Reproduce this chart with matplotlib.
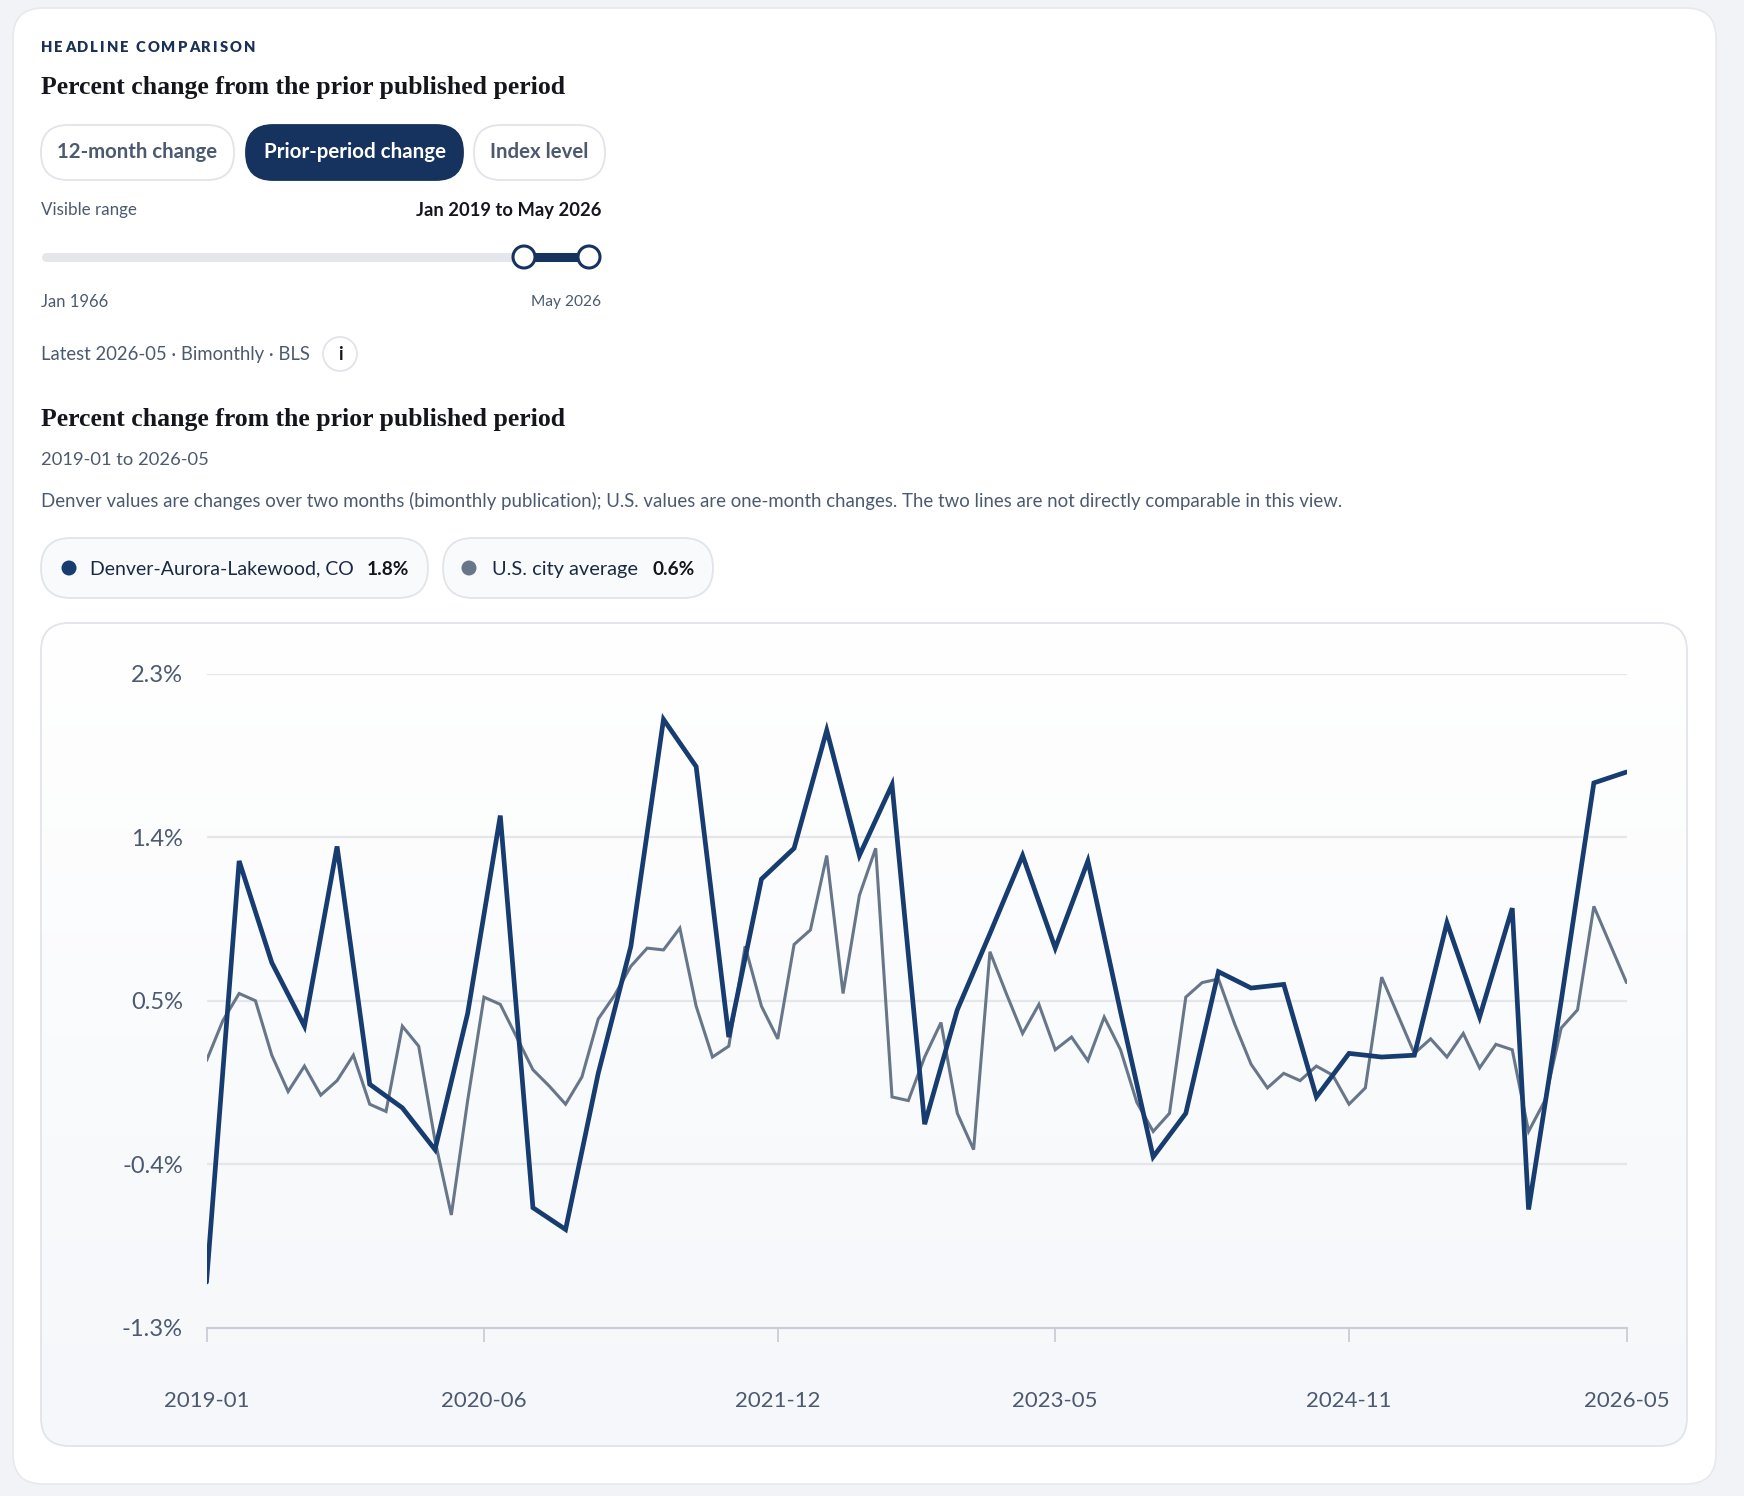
import matplotlib
matplotlib.use("Agg")
import matplotlib.pyplot as plt
import numpy as np
import pandas as pd
from matplotlib.colors import LinearSegmentedColormap
from matplotlib.patches import Circle, FancyBboxPatch

W, H = 1744, 1496

# monthly axis; Oct 2025 was never published so it has no slot
months = [str(p) for p in pd.period_range("2019-01", "2026-05", freq="M") if str(p) != "2025-10"]

us_values = [
    0.17, 0.39, 0.54, 0.50, 0.20, 0.00, 0.14, -0.02, 0.06, 0.20,
    -0.07, -0.11, 0.36, 0.25, -0.27, -0.68, -0.05, 0.52, 0.48, 0.30,
    0.12, 0.03, -0.07, 0.08, 0.40, 0.53, 0.69, 0.79, 0.78, 0.90,
    0.47, 0.19, 0.25, 0.80, 0.47, 0.29, 0.81, 0.89, 1.30, 0.54,
    1.08, 1.34, -0.03, -0.05, 0.19, 0.38, -0.12, -0.32, 0.77, 0.54,
    0.32, 0.48, 0.23, 0.30, 0.17, 0.41, 0.23, -0.06, -0.22, -0.12,
    0.52, 0.60, 0.62, 0.37, 0.15, 0.02, 0.10, 0.06, 0.14, 0.09,
    -0.07, 0.02, 0.63, 0.42, 0.21, 0.29, 0.19, 0.32, 0.13, 0.26,
    0.23, -0.22, -0.05, 0.35, 0.45, 1.02, 0.81, 0.60,
]

# Denver is published for odd months only (bimonthly)
denver_months = [m for m in months if int(m[5:]) % 2 == 1]
denver_values = [
    -1.05, 1.27, 0.71, 0.36, 1.35, 0.04, -0.09, -0.32, 0.43, 1.52,
    -0.64, -0.76, 0.10, 0.80, 2.05, 1.79, 0.30, 1.17, 1.34, 1.99,
    1.30, 1.69, -0.18, 0.45, 0.87, 1.30, 0.79, 1.27, 0.44, -0.36,
    -0.12, 0.66, 0.57, 0.59, -0.03, 0.21, 0.19, 0.20, 0.93, 0.41,
    1.01, -0.65, 0.50, 1.70, 1.76,
]

tick_months = ["2019-01", "2020-06", "2021-12", "2023-05", "2024-11", "2026-05"]
y_ticks = [2.3, 1.4, 0.5, -0.4, -1.3]
buttons = ["12-month change", "Prior-period change", "Index level"]

BG = "#f1f3f6"
NAVY = "#15335e"
LINE_NAVY = "#173c70"
LINE_GRAY = "#677689"
SLATE = "#4c5a70"
INK = "#14161c"
BORDER = "#e1e4e9"
GRID = "#e4e6ea"
AXIS = "#c9ced6"
FONT = ["Lato", "DejaVu Sans"]
SERIF = ["Liberation Serif", "DejaVu Serif"]

plt.rcParams["font.family"] = FONT

fig = plt.figure(figsize=(W / 100, H / 100), dpi=100, facecolor=BG)
bg = fig.add_axes([0, 0, 1, 1])
bg.set_xlim(0, W)
bg.set_ylim(H, 0)
bg.axis("off")
renderer = fig.canvas.get_renderer()


def rbox(x0, y0, x1, y1, r, fc, ec="none", lw=1.0, z=1):
    p = FancyBboxPatch((x0 + r, y0 + r), x1 - x0 - 2 * r, y1 - y0 - 2 * r,
                       boxstyle=f"round,pad={r}", fc=fc, ec=ec, lw=lw, zorder=z)
    bg.add_patch(p)
    return p


def put(x, y, s, width, ha="left", size=12, **kw):
    """Place text and scale its size so it spans `width` pixels."""
    t = bg.text(x, y, s, ha=ha, va="center", fontsize=size, zorder=10, **kw)
    w = t.get_window_extent(renderer).width
    t.set_fontsize(size * width / w)
    return t


def tracked(x, y, s, width, size, **kw):
    """Letter-spaced caps: fixed size, even extra spacing to fill `width`."""
    probe = bg.text(0, 0, "", fontsize=size, **kw)

    def ext(txt):
        probe.set_text(txt)
        return probe.get_window_extent(renderer).width

    i_w = ext("I")
    full = ext(s)
    gap = (width - full) / (len(s) - 1)
    # advance of each prefix, using a trailing "I" so spaces are counted
    lefts = [0 if i == 0 else ext(s[:i] + "I") - i_w for i in range(len(s))]
    probe.remove()
    for i, c in enumerate(s):
        if c != " ":
            bg.text(x + lefts[i] + i * gap, y, c, fontsize=size, va="center", zorder=10, **kw)


# card
rbox(13, 8, 1716, 1484, 30, "white", ec="#e7e9ed", lw=1.2)

tracked(41, 47, "HEADLINE COMPARISON", 214, 10.6, color="#1c3156", weight="heavy")
put(41, 87, "Percent change from the prior published period", 519,
    family=SERIF, weight="bold", color=INK)

# view toggle pills
pills = [(41, 234, 160), (246, 463, 181), (474, 605, 98)]
for (x0, x1, tw), label in zip(pills, buttons):
    active = label == "Prior-period change"
    rbox(x0, 125, x1, 180, 27, NAVY if active else "white",
         ec=NAVY if active else BORDER, lw=1.3, z=2)
    put((x0 + x1) / 2, 152, label, tw, ha="center",
        color="white" if active else SLATE, weight="bold")

# range slider
put(41, 210, "Visible range", 96, color=SLATE)
put(601, 210, "Jan 2019 to May 2026", 183, ha="right", color=INK, weight="bold")
bg.plot([46, 596], [257, 257], color="#e4e6ea", lw=6.5, solid_capstyle="round", zorder=3)
bg.plot([524, 589], [257, 257], color=NAVY, lw=6.5, zorder=4)
for hx in (524, 589):
    bg.add_patch(Circle((hx, 257), 11, fc="white", ec=NAVY, lw=2.2, zorder=5))
put(41, 302, "Jan 1966", 67, color=SLATE)
put(601, 302, "May 2026", 70, ha="right", color=SLATE)

put(41, 354, "Latest 2026-05 · Bimonthly · BLS", 268, color=SLATE)
bg.add_patch(Circle((340, 354), 17, fc="white", ec=BORDER, lw=1.3, zorder=5))
bg.text(340, 354, "i", ha="center", va="center", fontsize=13, weight="bold", color=INK, zorder=6)

put(41, 419, "Percent change from the prior published period", 519,
    family=SERIF, weight="bold", color=INK)
put(41, 460, f"{months[0]} to {months[-1]}", 167, color=SLATE)
put(41, 501, "Denver values are changes over two months (bimonthly publication); "
    "U.S. values are one-month changes. The two lines are not directly comparable in this view.",
    1298, color=SLATE)

# legend chips
rbox(41, 538, 428, 598, 30, "#f9fafc", ec=BORDER, lw=1.3, z=2)
rbox(443, 538, 713, 598, 30, "#f9fafc", ec=BORDER, lw=1.3, z=2)
bg.add_patch(Circle((69, 568), 7.5, fc=LINE_NAVY, zorder=5))
bg.add_patch(Circle((469, 568), 7.5, fc=LINE_GRAY, zorder=5))
put(90, 569, "Denver-Aurora-Lakewood, CO", 263, color="#1b2a44")
put(367, 569, f"{denver_values[-1]:.1f}%", 42, color=INK, weight="bold")
put(492, 569, "U.S. city average", 146, color="#1b2a44")
put(652, 569, f"{us_values[-1]:.1f}%", 42, color=INK, weight="bold")

# chart panel with soft vertical gradient
panel = rbox(41, 623, 1687, 1446, 28, "none", ec=BORDER, lw=1.3, z=3)
grad = np.linspace(0, 1, 256).reshape(-1, 1)
cmap = LinearSegmentedColormap.from_list("panel", ["#ffffff", "#f5f7fa"])
im = bg.imshow(grad, extent=(41, 1687, 1446, 623), cmap=cmap, aspect="auto", zorder=2)
im.set_clip_path(panel)
bg.set_xlim(0, W)
bg.set_ylim(H, 0)

# the chart itself
ax = fig.add_axes([206.5 / W, 1 - 1327.5 / H, 1420 / W, 653.5 / H], zorder=3)
ax.patch.set_alpha(0)
xs = np.arange(len(months))
dx = [months.index(m) for m in denver_months]

ax.hlines(y_ticks[:-1], 0, len(months) - 1, color=GRID, lw=1.6, zorder=1)
ax.plot(xs, us_values, color=LINE_GRAY, lw=2.2, solid_joinstyle="miter",
        solid_capstyle="round", zorder=3)
ax.plot(dx, denver_values, color=LINE_NAVY, lw=3.4, solid_joinstyle="miter",
        solid_capstyle="round", zorder=4)

ax.set_xlim(0, len(months) - 1)
ax.set_ylim(y_ticks[-1], y_ticks[0])
for side in ("top", "right", "left"):
    ax.spines[side].set_visible(False)
ax.spines["bottom"].set_color(AXIS)
ax.spines["bottom"].set_linewidth(1.6)
ax.set_xticks([months.index(m) for m in tick_months])
ax.set_xticklabels(tick_months)
ax.set_yticks(y_ticks)
ax.set_yticklabels([f"{v:.1f}%" for v in y_ticks])
ax.tick_params(axis="x", length=10, width=1.3, color=AXIS, pad=36,
               labelsize=16, labelcolor=SLATE)
ax.tick_params(axis="y", length=0, pad=17, labelsize=17, labelcolor=SLATE)

fig.savefig("out.png", dpi=100, facecolor=BG)
